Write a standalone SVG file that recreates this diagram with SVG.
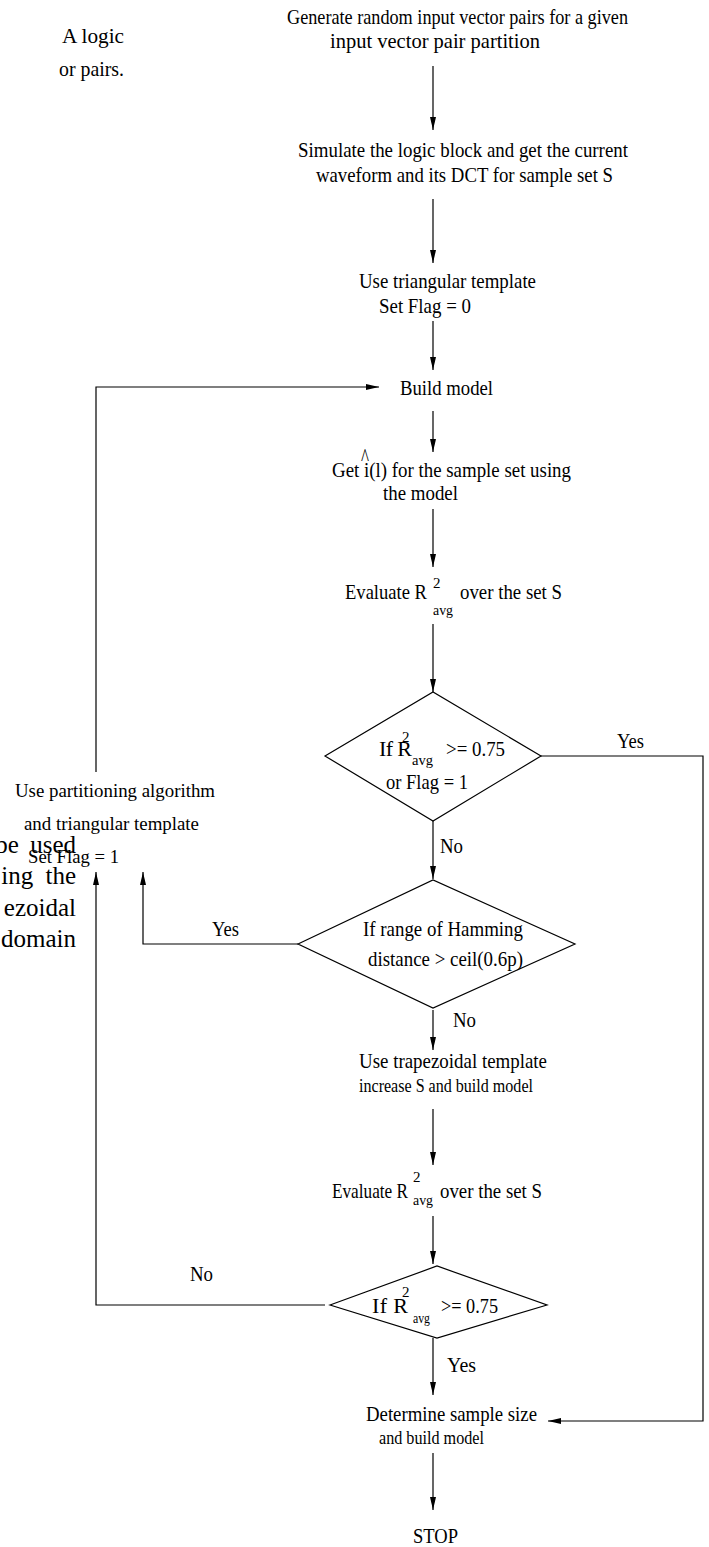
<svg xmlns="http://www.w3.org/2000/svg" width="709" height="1547" viewBox="0 0 709 1547">
<style>
text{font-family:"Liberation Serif","Times New Roman",serif;fill:#000}
.m{font-size:22px}
.s{font-size:18px}
.p{font-size:19px}
.sup{font-size:15px}
.body{font-size:25px;text-anchor:end}
.top{font-size:22px}
.c{fill:none;stroke:#000;stroke-width:1.2}
.d{fill:#fff;stroke:#000;stroke-width:1.2}
</style>
<defs>
<marker id="ah" viewBox="0 0 13 6" refX="13" refY="3" markerWidth="13" markerHeight="6" markerUnits="userSpaceOnUse" orient="auto">
<path d="M0,0 L13,3 L0,6 z" fill="#000"/>
</marker>
</defs>
<rect width="709" height="1547" fill="#fff"/>

<g id="page-text">
<text class="top" x="62" y="43" textLength="62" lengthAdjust="spacingAndGlyphs">A logic</text>
<text class="top" x="59" y="76" textLength="65" lengthAdjust="spacingAndGlyphs">or pairs.</text>
<text class="body" x="76" y="853" word-spacing="5">be used</text>
<text class="body" x="76" y="884" word-spacing="6">ing the</text>
<text class="body" x="76" y="916">ezoidal</text>
<text class="body" x="76" y="947">domain</text>
</g>

<g id="connectors">
<path class="c" d="M433,66 V130" marker-end="url(#ah)"/>
<path class="c" d="M433,199 V263" marker-end="url(#ah)"/>
<path class="c" d="M433,321 V370" marker-end="url(#ah)"/>
<path class="c" d="M433,411 V452" marker-end="url(#ah)"/>
<path class="c" d="M433,509 V567" marker-end="url(#ah)"/>
<path class="c" d="M433,624 V692" marker-end="url(#ah)"/>
<path class="c" d="M433,821 V879" marker-end="url(#ah)"/>
<path class="c" d="M433,1010 V1050" marker-end="url(#ah)"/>
<path class="c" d="M433,1109 V1165" marker-end="url(#ah)"/>
<path class="c" d="M433,1216 V1264" marker-end="url(#ah)"/>
<path class="c" d="M433,1338 V1395" marker-end="url(#ah)"/>
<path class="c" d="M433,1453 V1510" marker-end="url(#ah)"/>
<path class="c" d="M541,756 H703 V1421 H548" marker-end="url(#ah)"/>
<path class="c" d="M298,944 H143 V872" marker-end="url(#ah)"/>
<path class="c" d="M325,1305 H96 V872" marker-end="url(#ah)"/>
<path class="c" d="M96,772 V387 H379" marker-end="url(#ah)"/>
<text class="m" x="617" y="748" textLength="27" lengthAdjust="spacingAndGlyphs">Yes</text>
<text class="m" x="440" y="853" textLength="23" lengthAdjust="spacingAndGlyphs">No</text>
<text class="m" x="212" y="936" textLength="27" lengthAdjust="spacingAndGlyphs">Yes</text>
<text class="m" x="453" y="1027" textLength="23" lengthAdjust="spacingAndGlyphs">No</text>
<text class="m" x="190" y="1281" textLength="23" lengthAdjust="spacingAndGlyphs">No</text>
<text class="m" x="447" y="1372" textLength="29" lengthAdjust="spacingAndGlyphs">Yes</text>
</g>

<g id="generate">
<text class="m" x="287" y="24" textLength="341" lengthAdjust="spacingAndGlyphs">Generate random input vector pairs for a given</text>
<text class="m" x="330" y="48" textLength="210" lengthAdjust="spacingAndGlyphs">input vector pair partition</text>
</g>

<g id="simulate">
<text class="m" x="298" y="157" textLength="330" lengthAdjust="spacingAndGlyphs">Simulate the logic block and get the current</text>
<text class="m" x="316" y="182" textLength="297" lengthAdjust="spacingAndGlyphs">waveform and its DCT for sample set S</text>
</g>

<g id="triangular">
<text class="m" x="359" y="288" textLength="177" lengthAdjust="spacingAndGlyphs">Use triangular template</text>
<text class="m" x="379" y="313" textLength="92" lengthAdjust="spacingAndGlyphs">Set Flag = 0</text>
</g>

<g id="build">
<text class="m" x="400" y="395" textLength="93" lengthAdjust="spacingAndGlyphs">Build model</text>
</g>

<g id="get-i">
<text class="m" x="361" y="466" textLength="8" lengthAdjust="spacingAndGlyphs" style="font-size:26px">^</text>
<text class="m" x="332" y="477" textLength="239" lengthAdjust="spacingAndGlyphs">Get i(l) for the sample set using</text>
<text class="m" x="383" y="500" textLength="75" lengthAdjust="spacingAndGlyphs">the model</text>
</g>

<g id="evaluate1">
<text class="m" x="345" y="599" textLength="82" lengthAdjust="spacingAndGlyphs">Evaluate R</text>
<text class="sup" x="433" y="588">2</text>
<text class="sup" x="433" y="615" textLength="20" lengthAdjust="spacingAndGlyphs">avg</text>
<text class="m" x="460" y="599" textLength="102" lengthAdjust="spacingAndGlyphs">over the set S</text>
</g>

<g id="decision1">
<polygon class="d" points="325,756 433,692 541,756 433,821"/>
<text class="m" x="379" y="756" textLength="33" lengthAdjust="spacing">If R</text>
<text class="sup" x="402" y="742">2</text>
<text class="sup" x="412" y="765" textLength="21" lengthAdjust="spacingAndGlyphs">avg</text>
<text class="m" x="446" y="756" textLength="59" lengthAdjust="spacingAndGlyphs">&gt;= 0.75</text>
<text class="m" x="386" y="789" textLength="82" lengthAdjust="spacingAndGlyphs">or Flag = 1</text>
</g>

<g id="partition">
<text class="p" x="15" y="797" textLength="200" lengthAdjust="spacingAndGlyphs">Use partitioning algorithm</text>
<text class="p" x="24" y="830" textLength="175" lengthAdjust="spacingAndGlyphs">and triangular template</text>
<text class="p" x="28" y="863" textLength="91" lengthAdjust="spacingAndGlyphs">Set Flag = 1</text>
</g>

<g id="decision2">
<polygon class="d" points="298,944 433,880 575,944 433,1008"/>
<text class="m" x="363" y="936" textLength="160" lengthAdjust="spacingAndGlyphs">If range of Hamming</text>
<text class="m" x="368" y="966" textLength="155" lengthAdjust="spacingAndGlyphs">distance &gt; ceil(0.6p)</text>
</g>

<g id="trapezoidal">
<text class="m" x="359" y="1068" textLength="188" lengthAdjust="spacingAndGlyphs">Use trapezoidal template</text>
<text class="s" x="359" y="1092" textLength="174" lengthAdjust="spacingAndGlyphs">increase S and build model</text>
</g>

<g id="evaluate2">
<text class="m" x="332" y="1198" textLength="76" lengthAdjust="spacingAndGlyphs">Evaluate R</text>
<text class="sup" x="413" y="1182">2</text>
<text class="sup" x="413" y="1205" textLength="20" lengthAdjust="spacingAndGlyphs">avg</text>
<text class="m" x="440" y="1198" textLength="102" lengthAdjust="spacingAndGlyphs">over the set S</text>
</g>

<g id="decision3">
<polygon class="d" points="330,1305 437,1266 547,1305 437,1338"/>
<text class="m" x="372" y="1313" textLength="36" lengthAdjust="spacing">If R</text>
<text class="sup" x="402" y="1297">2</text>
<text class="sup" x="413" y="1323" textLength="17" lengthAdjust="spacingAndGlyphs">avg</text>
<text class="m" x="441" y="1313" textLength="57" lengthAdjust="spacingAndGlyphs">&gt;= 0.75</text>
</g>

<g id="determine">
<text class="m" x="366" y="1421" textLength="171" lengthAdjust="spacingAndGlyphs">Determine sample size</text>
<text class="s" x="379" y="1444" textLength="105" lengthAdjust="spacingAndGlyphs">and build model</text>
</g>

<g id="stop">
<text class="m" x="413" y="1543" textLength="45" lengthAdjust="spacingAndGlyphs">STOP</text>
</g>
</svg>
